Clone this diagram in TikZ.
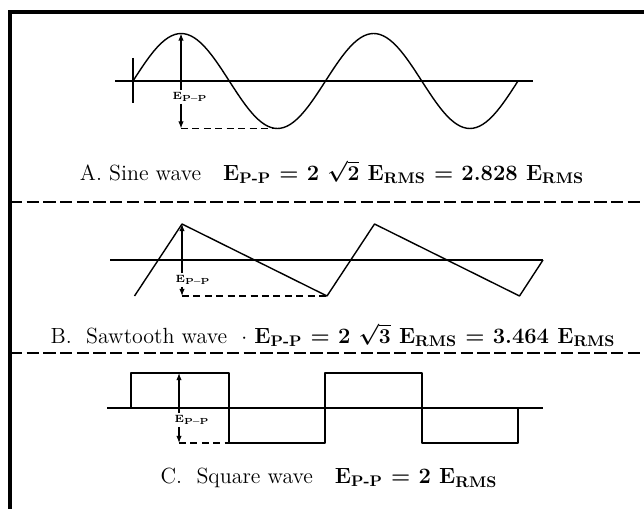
\documentclass[tikz,border=0pt]{standalone}
\usepackage{amsmath,amssymb}
\usepackage{tikz}
\usetikzlibrary{arrows.meta}

\newcommand{\Eval}[1]{E\textsubscript{#1}}

\begin{document}
\begin{tikzpicture}[x=0.02cm, y=-0.02cm,
    every node/.style={font=\fontsize{12.5}{15}\selectfont},
    frame/.style={line width=2pt},
    sep/.style={line width=1.1pt, dash pattern=on 7pt off 2.5pt},
    axis/.style={line width=0.6pt},
    wave/.style={line width=0.8pt, line join=round},
    dimline/.style={line width=0.6pt, -{Latex[length=4pt,width=3pt]}},
    guide/.style={line width=0.6pt, dash pattern=on 4pt off 2.5pt},
    caption/.style={anchor=center, inner sep=0pt},
    minilbl/.style={font=\fontsize{6}{7}\selectfont\bfseries, inner sep=1pt},
]
  \useasboundingbox (0,0) rectangle (644,509);
  % frame, cut off at right and bottom
  \draw[frame] (10,509) -- (10,12) -- (644,12);

  % A. sine wave
  \draw[axis] (115,81) -- (533,81);
  \draw[axis] (133,58) -- (133,103);
  \draw[wave] plot[domain=0:2, samples=121, smooth]
        ({133+192.5*\x}, {81-47.5*sin(360*\x)});
  \coordinate (sinetop) at (181,33.5);
  \coordinate (sinebot) at (181,128.5);
  \coordinate (sinelow) at (277,128.5);
  \node[minilbl] (sinelbl) at (190,97) {\Eval{P--P}};
  \draw[dimline] (sinelbl.north -| sinetop) -- (sinetop);
  \draw[dimline] (sinelbl.south -| sinebot) -- (sinebot);
  \draw[guide] (sinebot) -- (sinelow);
  \node[caption] (capA) at (332,172)
        {A. Sine wave\quad\textbf{\boldmath\Eval{P-P} = 2 $\sqrt{2}$ \Eval{RMS} = 2.828 \Eval{RMS}}};

  \draw[sep] (10,202) -- (644,202);

  % B. sawtooth wave
  \draw[axis] (110,260) -- (543,260);
  \draw[wave] (134.5,296) -- (182,224) -- (327,296) -- (374.5,224)
        -- (519.5,296) -- (543,260);
  \coordinate (sawtop) at (182,224);
  \coordinate (sawbot) at (182,296);
  \coordinate (sawlow) at (327,296);
  \node[minilbl] (sawlbl) at (193,280) {\Eval{P--P}};
  \draw[dimline] (sawlbl.north -| sawtop) -- (sawtop);
  \draw[dimline] (sawlbl.south -| sawbot) -- (sawbot);
  \draw[guide] (sawbot) -- (sawlow);
  \node[caption] (capB) at (333,335)
        {B.\ \ Sawtooth wave \ $\cdot$ \textbf{\boldmath\Eval{P-P} = 2 $\sqrt{3}$ \Eval{RMS} = 3.464 \Eval{RMS}}};

  \draw[sep] (10,353) -- (644,353);

  % C. square wave
  \draw[axis] (107,408) -- (543,408);
  \draw[wave] (131,408) -- (131,373) -- (229,373) -- (229,443) -- (325,443)
        -- (325,373) -- (422,373) -- (422,443) -- (518,443) -- (518,408);
  \coordinate (sqtop) at (179,373);
  \coordinate (sqbot) at (179,443);
  \coordinate (sqlow) at (229,443);
  \node[minilbl] (sqlbl) at (192,420) {\Eval{P--P}};
  \draw[dimline] (sqlbl.north -| sqtop) -- (sqtop);
  \draw[dimline] (sqlbl.south -| sqbot) -- (sqbot);
  \draw[guide] (sqbot) -- (sqlow);
  \node[caption] (capC) at (329,478)
        {C.\ \ Square wave\quad\textbf{\Eval{P-P} = 2 \Eval{RMS}}};
\end{tikzpicture}
\end{document}
